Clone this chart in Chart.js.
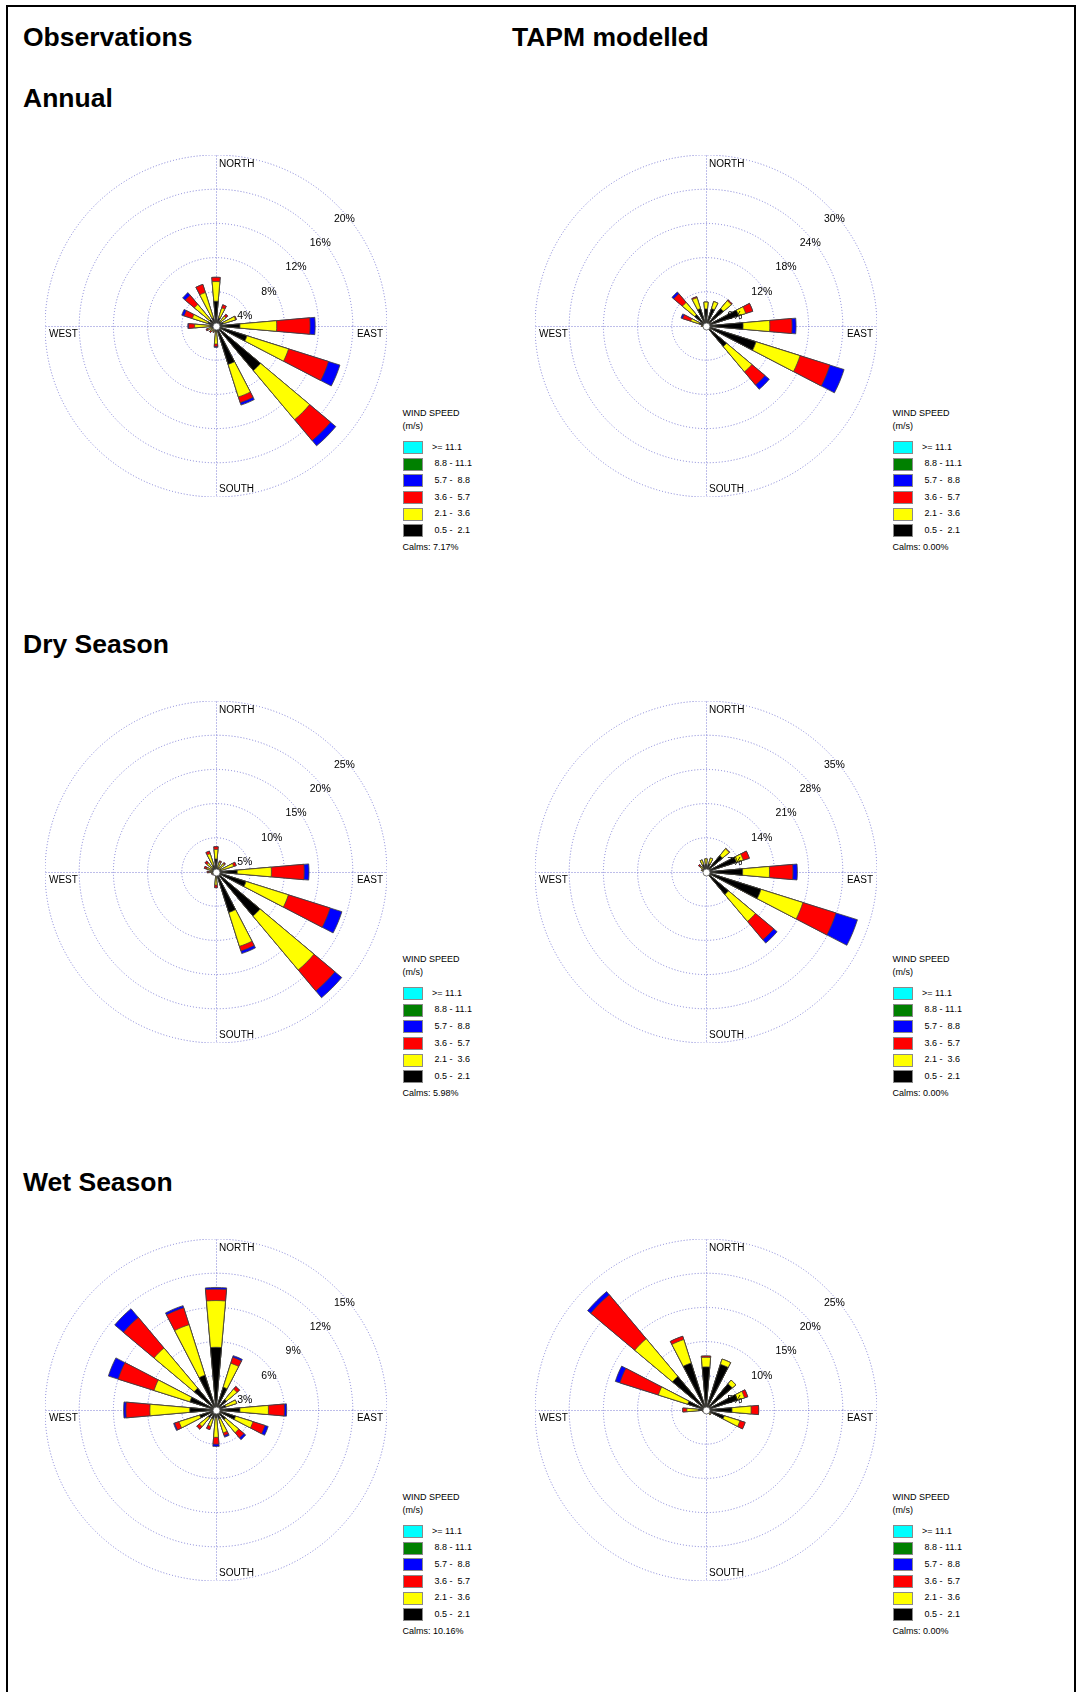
<!DOCTYPE html>
<html>
<head>
<meta charset="utf-8">
<script src="https://cdn.jsdelivr.net/npm/chart.js@4.4.1/dist/chart.umd.min.js"></script>
<style>
  body { margin: 0; background: #fff; }
  #page { position: relative; width: 1076px; height: 1692px; overflow: hidden;
          font-family: "Liberation Sans", Arial, sans-serif; color: #000; }
  .frame { position: absolute; left: 6px; top: 5px; width: 1066px; height: 1720px; border: 2px solid #000; }
  .title { position: absolute; font-weight: bold; font-size: 26.5px; line-height: 26px; white-space: nowrap; }
  canvas.rose { position: absolute; }
  .lg { position: absolute; font-size: 9px; line-height: 9px; white-space: pre; }
  .sw { position: absolute; width: 18px; height: 11px; border: 1px solid #8a8a8a; }
</style>
</head>
<body>
<div id="page">
  <div class="frame"></div>
  <div class="title" style="left:23px; top:24px;">Observations</div>
  <div class="title" style="left:512px; top:24px;">TAPM modelled</div>
  <div class="title" style="left:23px; top:85px;">Annual</div>
  <div class="title" style="left:23px; top:631px;">Dry Season</div>
  <div class="title" style="left:23px; top:1169px;">Wet Season</div>

  <canvas id="annObs" class="rose" width="342" height="342" style="left:45px; top:155px;"></canvas>
  <canvas id="annTapm" class="rose" width="342" height="342" style="left:535px; top:155px;"></canvas>
  <canvas id="dryObs" class="rose" width="342" height="342" style="left:45px; top:701px;"></canvas>
  <canvas id="dryTapm" class="rose" width="342" height="342" style="left:535px; top:701px;"></canvas>
  <canvas id="wetObs" class="rose" width="342" height="342" style="left:45px; top:1239px;"></canvas>
  <canvas id="wetTapm" class="rose" width="342" height="342" style="left:535px; top:1239px;"></canvas>
</div>

<script>
// wind directions (16 sectors, clockwise from north)
const directions = ['N', 'NNE', 'NE', 'ENE', 'E', 'ESE', 'SE', 'SSE', 'S', 'SSW', 'SW', 'WSW', 'W', 'WNW', 'NW', 'NNW'];

// speed classes, top of legend first
const speedLabels = ['>= 11.1', '8.8 - 11.1', '5.7 -  8.8', '3.6 -  5.7', '2.1 -  3.6', '0.5 -  2.1'];
const speedColors = ['#00ffff', '#008000', '#0000ff', '#ff0000', '#ffff00', '#000000'];

// frequency (%) per direction for each speed class
// Annual - observations
const annObs_05_21 = [2.9, 1.0, 0.7, 0.9, 2.8, 3.8, 6.8, 4.7, 0.6, 0.4, 0.4, 0.5, 0.7, 1.0, 1.0, 1.0];
const annObs_21_36 = [2.3, 1.2, 0.8, 1.5, 4.3, 5.1, 7.5, 4.0, 1.5, 0.3, 0.4, 0.5, 1.8, 1.9, 2.3, 3.1];
const annObs_36_57 = [0.5, 0.4, 0.3, 0.1, 3.9, 4.9, 3.2, 0.7, 0.3, 0.1, 0.2, 0.2, 0.7, 1.0, 1.4, 1.0];
const annObs_57_88 = [0.0, 0.0, 0.0, 0.0, 0.6, 1.4, 0.8, 0.3, 0.1, 0.0, 0.0, 0.0, 0.1, 0.3, 0.4, 0.0];

// Annual - TAPM
const annTapm_05_21 = [3.0, 3.2, 4.0, 6.0, 6.5, 9.2, 4.7, 0.3, 0.2, 0.2, 0.2, 0.3, 0.5, 1.2, 2.6, 3.2];
const annTapm_21_36 = [1.2, 1.3, 1.8, 1.3, 4.7, 8.1, 5.8, 0.1, 0.0, 0.0, 0.1, 0.2, 0.3, 1.6, 2.8, 2.0];
const annTapm_36_57 = [0.0, 0.0, 0.2, 1.3, 3.9, 5.5, 3.0, 0.0, 0.0, 0.0, 0.0, 0.0, 0.0, 1.5, 2.0, 0.2];
const annTapm_57_88 = [0.0, 0.0, 0.0, 0.0, 0.7, 2.6, 1.0, 0.0, 0.0, 0.0, 0.0, 0.0, 0.0, 0.3, 0.4, 0.0];

// Dry season - observations
const dryObs_05_21 = [1.9, 0.6, 0.6, 0.8, 3.1, 4.6, 8.4, 6.2, 0.6, 0.3, 0.3, 0.3, 0.5, 0.5, 0.7, 1.0];
const dryObs_21_36 = [1.4, 0.9, 1.0, 1.9, 5.0, 6.5, 10.3, 5.2, 1.3, 0.2, 0.2, 0.3, 0.5, 0.9, 1.0, 1.8];
const dryObs_36_57 = [0.4, 0.2, 0.2, 0.4, 4.8, 6.4, 4.0, 0.7, 0.4, 0.0, 0.1, 0.1, 0.3, 0.4, 0.4, 0.4];
const dryObs_57_88 = [0.0, 0.0, 0.0, 0.0, 0.7, 1.8, 1.3, 0.4, 0.0, 0.0, 0.0, 0.0, 0.0, 0.0, 0.0, 0.0];

// Dry season - TAPM
const dryTapm_05_21 = [1.6, 1.8, 4.4, 6.5, 7.5, 11.8, 6.0, 0.2, 0.1, 0.1, 0.1, 0.1, 0.3, 0.6, 0.8, 1.6];
const dryTapm_21_36 = [1.1, 1.2, 1.8, 1.5, 5.5, 9.0, 7.2, 0.0, 0.0, 0.0, 0.0, 0.0, 0.0, 0.3, 0.8, 1.0];
const dryTapm_36_57 = [0.0, 0.0, 0.1, 1.3, 4.8, 7.1, 4.9, 0.0, 0.0, 0.0, 0.0, 0.0, 0.0, 0.1, 0.4, 0.0];
const dryTapm_57_88 = [0.0, 0.0, 0.0, 0.0, 0.9, 4.6, 0.9, 0.0, 0.0, 0.0, 0.0, 0.0, 0.0, 0.0, 0.0, 0.0];

// Wet season - observations
const wetObs_05_21 = [5.5, 2.1, 1.2, 0.9, 2.1, 1.8, 1.1, 0.8, 0.7, 0.8, 0.9, 1.5, 2.3, 2.4, 2.5, 3.2];
const wetObs_21_36 = [4.1, 2.2, 1.2, 1.0, 2.5, 1.6, 1.5, 1.3, 1.7, 0.7, 1.0, 1.9, 3.5, 3.3, 4.6, 4.65];
const wetObs_36_57 = [1.0, 0.55, 0.3, 0.0, 1.4, 1.1, 0.6, 0.25, 0.6, 0.3, 0.3, 0.4, 2.1, 3.3, 3.5, 1.55];
const wetObs_57_88 = [0.15, 0.15, 0.0, 0.0, 0.2, 0.3, 0.2, 0.15, 0.2, 0.0, 0.0, 0.1, 0.2, 0.9, 1.0, 0.2];

// Wet season - TAPM
const wetTapm_05_21 = [6.3, 7.0, 5.0, 4.8, 3.8, 2.8, 0.6, 0.3, 0.2, 0.2, 0.3, 0.3, 1.1, 2.8, 6.4, 7.2];
const wetTapm_21_36 = [1.4, 0.8, 0.7, 1.1, 2.8, 2.4, 0.3, 0.2, 0.0, 0.0, 0.1, 0.2, 1.7, 4.5, 7.2, 3.6];
const wetTapm_36_57 = [0.2, 0.0, 0.0, 0.5, 1.1, 0.8, 0.0, 0.0, 0.0, 0.0, 0.0, 0.0, 0.6, 5.9, 8.4, 0.5];
const wetTapm_57_88 = [0.0, 0.0, 0.0, 0.0, 0.0, 0.0, 0.0, 0.0, 0.0, 0.0, 0.0, 0.0, 0.0, 0.7, 0.6, 0.0];

// calms and outer ring of each rose
const calms = { annObs: '7.17%', annTapm: '0.00%', dryObs: '5.98%', dryTapm: '0.00%', wetObs: '10.16%', wetTapm: '0.00%' };
const ringMax = { annObs: 20, annTapm: 30, dryObs: 25, dryTapm: 35, wetObs: 15, wetTapm: 25 };

const roses = [
  { id: 'annObs', classes: [annObs_05_21, annObs_21_36, annObs_36_57, annObs_57_88] },
  { id: 'annTapm', classes: [annTapm_05_21, annTapm_21_36, annTapm_36_57, annTapm_57_88] },
  { id: 'dryObs', classes: [dryObs_05_21, dryObs_21_36, dryObs_36_57, dryObs_57_88] },
  { id: 'dryTapm', classes: [dryTapm_05_21, dryTapm_21_36, dryTapm_36_57, dryTapm_57_88] },
  { id: 'wetObs', classes: [wetObs_05_21, wetObs_21_36, wetObs_36_57, wetObs_57_88] },
  { id: 'wetTapm', classes: [wetTapm_05_21, wetTapm_21_36, wetTapm_36_57, wetTapm_57_88] }
];

const ringColor = '#7c7cd4';
const ringDash = [1, 2];
const barAngle = 10;       // degrees of each bar
const gapAngle = 12.5;     // 22.5 - barAngle
const FONT = '"Liberation Sans", Arial, sans-serif';

// bar, gap, bar, gap ... so the bars are narrower than the sectors
function withGaps(values) {
  const out = [];
  values.forEach(v => { out.push(v); out.push(0); });
  return out;
}

const roseDecor = {
  id: 'roseDecor',
  beforeDatasetsDraw(chart) {
    const s = chart.scales.r;
    const ctx = chart.ctx;
    const R = s.drawingArea;
    const x = s.xCenter + 0.5, y = s.yCenter + 0.5;
    ctx.save();
    ctx.strokeStyle = ringColor;
    ctx.lineWidth = 1;
    ctx.setLineDash(ringDash);
    ctx.beginPath();
    ctx.moveTo(x, y - R); ctx.lineTo(x, y + R);
    ctx.moveTo(x - R, y); ctx.lineTo(x + R, y);
    ctx.stroke();
    ctx.setLineDash([]);
    ctx.fillStyle = '#000';
    ctx.font = '10px ' + FONT;
    ctx.textBaseline = 'middle';
    ctx.textAlign = 'left';
    ctx.fillText('NORTH', s.xCenter + 3, s.yCenter - R + 9);
    ctx.fillText('SOUTH', s.xCenter + 3, s.yCenter + R - 8);
    ctx.fillText('WEST', s.xCenter - R + 4, s.yCenter + 8);
    ctx.textAlign = 'right';
    ctx.fillText('EAST', s.xCenter + R - 4, s.yCenter + 8);
    ctx.restore();
  },
  afterDatasetsDraw(chart) {
    const s = chart.scales.r;
    const ctx = chart.ctx;
    ctx.save();
    // calm circle
    ctx.beginPath();
    ctx.arc(s.xCenter + 0.5, s.yCenter + 0.5, 3.5, 0, Math.PI * 2);
    ctx.fillStyle = '#fff';
    ctx.fill();
    ctx.strokeStyle = '#555';
    ctx.lineWidth = 0.8;
    ctx.stroke();
    // ring labels along the north-east diagonal
    ctx.fillStyle = '#000';
    ctx.font = '10.5px ' + FONT;
    ctx.textAlign = 'left';
    ctx.textBaseline = 'middle';
    s.ticks.forEach(t => {
      if (t.value <= 0) return;
      const r = s.getDistanceFromCenterForValue(t.value);
      ctx.fillText(t.value + '%', s.xCenter + r * Math.SQRT1_2 - 3, s.yCenter - r * Math.SQRT1_2 + 14);
    });
    ctx.restore();
  }
};

function drawRose(rose) {
  const stackColors = ['#000000', '#ffff00', '#ff0000', '#0000ff'];
  const datasets = [];
  let running = directions.map(() => 0);
  rose.classes.forEach((vals, k) => {
    running = running.map((v, i) => +(v + vals[i]).toFixed(2));
    datasets.push({
      label: speedLabels[5 - k],
      data: withGaps(running),
      backgroundColor: stackColors[k],
      borderColor: '#404040',
      borderWidth: ctx => (ctx.dataIndex % 2 ? 0 : 0.8),
      angle: ctx => (ctx.dataIndex % 2 ? gapAngle : barAngle)
    });
  });
  const max = ringMax[rose.id];
  new Chart(document.getElementById(rose.id), {
    type: 'polarArea',
    data: { labels: withGaps(directions).map(d => d || ''), datasets },
    options: {
      responsive: false,
      animation: false,
      layout: { padding: 0 },
      plugins: { legend: { display: false }, tooltip: { enabled: false } },
      scales: {
        r: {
          min: 0,
          max: max,
          startAngle: -barAngle / 2,
          ticks: { display: false, stepSize: max / 5 },
          grid: { circular: true, color: ringColor, lineWidth: 1 },
          border: { dash: ringDash },
          angleLines: { display: false },
          pointLabels: { display: false }
        }
      }
    },
    plugins: [roseDecor]
  });

  // legend box beside the rose
  const cv = document.getElementById(rose.id);
  const cx = parseFloat(cv.style.left) + 171;
  const cy = parseFloat(cv.style.top) + 171;
  const page = document.getElementById('page');
  const lx = cx + 186.6;
  const addText = (txt, x, yMid) => {
    const d = document.createElement('div');
    d.className = 'lg';
    d.textContent = txt;
    d.style.left = x + 'px';
    d.style.top = (yMid - 4.4) + 'px';
    page.appendChild(d);
  };
  addText('WIND SPEED', lx, cy + 87.3);
  addText('(m/s)', lx, cy + 100.7);
  speedLabels.forEach((lab, i) => {
    const top = cy + 115 + 16.67 * i;
    const sw = document.createElement('div');
    sw.className = 'sw';
    sw.style.left = lx + 'px';
    sw.style.top = top + 'px';
    sw.style.background = speedColors[i];
    page.appendChild(sw);
    addText(lab, lx + (i === 0 ? 29.5 : 32), top + 6);
  });
  addText('Calms: ' + calms[rose.id], lx, cy + 221);
}

roses.forEach(drawRose);
</script>
</body>
</html>
